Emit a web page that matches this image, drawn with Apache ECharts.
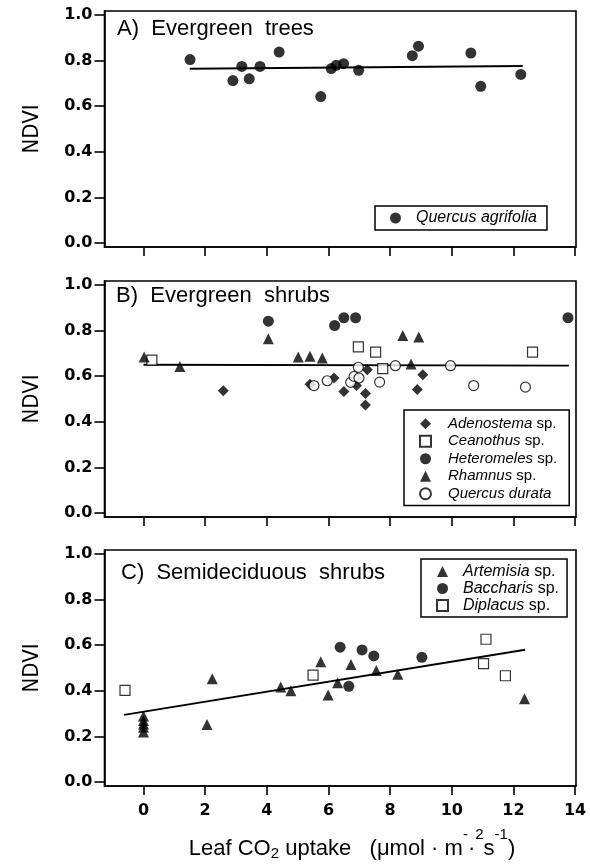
<!DOCTYPE html>
<html><head><meta charset="utf-8">
<script src="https://cdn.jsdelivr.net/npm/echarts@6/dist/echarts.min.js"></script>
<style>html,body{margin:0;padding:0;background:#fff}#c{width:590px;height:866px}</style>
</head><body><div id="c"></div>
<script>
// ---- tick labels ----
const xTicks = [0, 2, 4, 6, 8, 10, 12, 14];
const yTicks = [0, 0.2, 0.4, 0.6, 0.8, 1.0];

// ---- Panel A: Evergreen trees ----
const agrifoliaX = [1.51, 2.90, 3.19, 3.43, 3.78, 4.40, 5.75, 6.09, 6.25, 6.49, 6.98, 8.72, 8.92, 10.62, 10.94, 12.24];
const agrifoliaY = [0.804, 0.712, 0.774, 0.720, 0.774, 0.837, 0.642, 0.765, 0.779, 0.786, 0.757, 0.821, 0.863, 0.833, 0.687, 0.739];
const fitAX = [1.5, 12.3];
const fitAY = [0.764, 0.776];

// ---- Panel B: Evergreen shrubs ----
const adenostemaX = [2.59, 5.40, 6.18, 6.50, 6.91, 7.20, 7.20, 7.26, 8.88, 9.06];
const adenostemaY = [0.536, 0.565, 0.592, 0.533, 0.559, 0.524, 0.474, 0.628, 0.542, 0.606];
const ceanothusX = [0.27, 6.97, 7.53, 7.76, 12.62];
const ceanothusY = [0.670, 0.728, 0.705, 0.633, 0.705];
const heteromelesX = [4.05, 6.20, 6.50, 6.88, 13.77];
const heteromelesY = [0.841, 0.822, 0.856, 0.856, 0.856];
const rhamnusX = [0.02, 1.18, 4.05, 5.02, 5.40, 5.80, 8.41, 8.93, 8.68];
const rhamnusY = [0.684, 0.642, 0.764, 0.684, 0.687, 0.680, 0.778, 0.772, 0.653];
const durataX = [5.53, 5.96, 6.72, 6.83, 6.99, 6.97, 7.66, 8.17, 9.96, 10.71, 12.39];
const durataY = [0.559, 0.580, 0.573, 0.599, 0.592, 0.639, 0.574, 0.646, 0.646, 0.559, 0.552];
const fitBX = [0.0, 13.8];
const fitBY = [0.650, 0.646];

// ---- Panel C: Semideciduous shrubs ----
const artemisiaX = [0, 0, 0, 0, 0, 2.06, 2.23, 4.45, 4.78, 5.75, 5.99, 6.30, 6.73, 7.55, 8.25, 12.36];
const artemisiaY = [0.29, 0.27, 0.255, 0.24, 0.22, 0.252, 0.453, 0.417, 0.400, 0.527, 0.382, 0.435, 0.515, 0.489, 0.473, 0.365];
const baccharisX = [6.38, 6.66, 7.09, 7.47, 9.03];
const baccharisY = [0.591, 0.420, 0.579, 0.553, 0.547];
const diplacusX = [-0.60, 5.50, 11.03, 11.11, 11.74];
const diplacusY = [0.402, 0.469, 0.519, 0.626, 0.466];
const fitCX = [-0.63, 12.38];
const fitCY = [0.295, 0.580];

const pts = (xs, ys) => xs.map((x, i) => [x, ys[i]]);

const X_MIN = -1.265, X_MAX = 14.03, Y_MIN = -0.017, Y_MAX = 1.017;
const LEFT = 104.5, RIGHT = 14, H = 236;
const TOPS = [11, 281, 550];
const TICKFONT = { color: '#000', fontFamily: 'DejaVu Sans', fontWeight: 'bold', fontSize: 16 };
const LW = 1.6;

const grids = TOPS.map(t => ({ left: LEFT, right: RIGHT, top: t, height: H, show: true, borderColor: '#000', borderWidth: LW, backgroundColor: 'transparent' }));

const xAxes = [0, 1, 2].map(i => ({
  type: 'value', gridIndex: i, min: X_MIN, max: X_MAX,
  axisLine: { show: true, onZero: false, lineStyle: { color: '#000', width: LW } },
  axisTick: { show: true, inside: false, length: 9, customValues: xTicks, lineStyle: { color: '#000', width: LW } },
  axisLabel: Object.assign({ show: i === 2, customValues: xTicks, margin: 17 }, TICKFONT),
  splitLine: { show: false }
}));

const yAxes = [0, 1, 2].map(i => ({
  type: 'value', gridIndex: i, min: Y_MIN, max: Y_MAX,
  name: 'NDVI', nameLocation: 'middle', nameGap: 61, nameRotate: 90,
  nameTextStyle: { color: '#000', fontSize: 22, fontFamily: '"Liberation Sans Narrow", "DejaVu Sans Condensed", "Liberation Sans"' },
  axisLine: { show: true, onZero: false, lineStyle: { color: '#000', width: LW } },
  axisTick: { show: true, inside: false, length: 10, customValues: yTicks, lineStyle: { color: '#000', width: LW } },
  axisLabel: Object.assign({ customValues: yTicks, margin: 12, formatter: v => v.toFixed(1) }, TICKFONT),
  splitLine: { show: false }
}));

const filled = { color: '#000' };
const open = { color: '#fff', borderColor: '#000', borderWidth: 1.2 };

function sc(name, gi, xs, ys, symbol, style, size) {
  return { type: 'scatter', name, xAxisIndex: gi, yAxisIndex: gi, data: pts(xs, ys), symbol, symbolSize: size || 10, itemStyle: style, z: 3 };
}
function fit(gi, xs, ys) {
  return { type: 'line', xAxisIndex: gi, yAxisIndex: gi, data: pts(xs, ys), showSymbol: false, symbol: 'none', lineStyle: { color: '#000', width: 1.8 }, z: 2, silent: true };
}

const series = [
  fit(0, fitAX, fitAY),
  sc('Quercus agrifolia', 0, agrifoliaX, agrifoliaY, 'circle', filled, 11),
  fit(1, fitBX, fitBY),
  sc('Adenostema sp.', 1, adenostemaX, adenostemaY, 'diamond', filled, 11),
  sc('Ceanothus sp.', 1, ceanothusX, ceanothusY, 'rect', open, 10),
  sc('Heteromeles sp.', 1, heteromelesX, heteromelesY, 'circle', filled, 11),
  sc('Rhamnus sp.', 1, rhamnusX, rhamnusY, 'triangle', filled, 11),
  sc('Quercus durata', 1, durataX, durataY, 'circle', open, 10),
  fit(2, fitCX, fitCY),
  sc('Artemisia sp.', 2, artemisiaX, artemisiaY, 'triangle', filled, 11),
  sc('Baccharis sp.', 2, baccharisX, baccharisY, 'circle', filled, 11),
  sc('Diplacus sp.', 2, diplacusX, diplacusY, 'rect', open, 10)
];

function legFmt(name) {
  if (name.endsWith(' sp.')) return '{g|}{i|' + name.slice(0, -4) + '}{n| sp.}';
  return '{g|}{i|' + name + '}';
}
function legend(data, left, top, padding, gap, fontSize, lh) {
  const base = { fontFamily: 'Liberation Sans', fontSize, color: '#000', lineHeight: lh };
  return {
    data, left, top, orient: 'vertical', selectedMode: false,
    borderColor: '#000', borderWidth: 1.5, borderRadius: 0, padding,
    itemWidth: 11, itemHeight: 11, itemGap: 0,
    formatter: legFmt,
    textStyle: Object.assign({}, base, { rich: {
      g: { width: gap, lineHeight: lh },
      i: Object.assign({}, base, { fontStyle: 'italic' }),
      n: Object.assign({}, base)
    } })
  };
}

const titleFont = '22px "Liberation Sans"';
const option = {
  animation: false,
  backgroundColor: '#fff',
  grid: grids,
  xAxis: xAxes,
  yAxis: yAxes,
  series,
  legend: [
    legend(['Quercus agrifolia'], 375, 206, [3, 10, 3, 15], 10, 16, 18),
    legend(['Adenostema sp.', 'Ceanothus sp.', 'Heteromeles sp.', 'Rhamnus sp.', 'Quercus durata'], 404, 410, [5, 12, 3, 15], 12, 15, 17.5),
    legend(['Artemisia sp.', 'Baccharis sp.', 'Diplacus sp.'], 421, 559, [4, 8, 3, 15], 10, 16, 17)
  ],
  graphic: [
    { type: 'text', x: 117, y: 29, style: { text: 'A)  Evergreen  trees', font: titleFont, fill: '#000', verticalAlign: 'middle' } },
    { type: 'text', x: 116, y: 296, style: { text: 'B)  Evergreen  shrubs', font: titleFont, fill: '#000', verticalAlign: 'middle' } },
    { type: 'text', x: 121, y: 572.5, style: { text: 'C)  Semideciduous  shrubs', font: titleFont, fill: '#000', verticalAlign: 'middle' } },
    { type: 'text', x: 352, y: 849, style: {
        text: '{t|Leaf CO}{sub|2}{t| uptake   (μmol · m}{sup|-}{t|·}{sup|2}{t|s}{sup|-1}{t|)}',
        align: 'center', verticalAlign: 'middle', fill: '#000',
        rich: {
          t: { fontFamily: 'Liberation Sans', fontSize: 22, lineHeight: 44, fill: '#000' },
          sub: { fontFamily: 'Liberation Sans', fontSize: 15, verticalAlign: 'bottom', padding: [0, 0, 10, 0], fill: '#000' },
          sup: { fontFamily: 'Liberation Sans', fontSize: 15, verticalAlign: 'top', fill: '#000' }
        }
      } }
  ]
};

const chart = echarts.init(document.getElementById('c'), null, { renderer: 'canvas' });
chart.setOption(option);
</script>
</body></html>
